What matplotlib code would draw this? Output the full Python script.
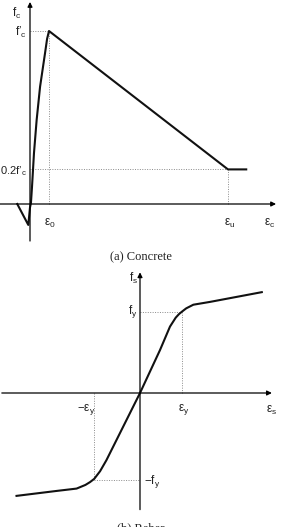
import matplotlib
matplotlib.use('Agg')
import matplotlib.pyplot as plt

plt.rcParams['mathtext.fontset'] = 'custom'
plt.rcParams['mathtext.rm'] = 'Liberation Sans'
plt.rcParams['mathtext.it'] = 'Liberation Sans'
plt.rcParams['font.family'] = 'Liberation Sans'

# (a) concrete: strain in units of eps_0, stress in units of f'c
conc_eps = [-0.67, -0.09, 0.0, 0.05, 0.105, 0.21, 0.35, 0.53, 0.79, 0.9, 1.0, 10.42, 11.38]
conc_sig = [0.0, -0.121, -0.02, 0.006, 0.098, 0.295, 0.486, 0.678, 0.871, 0.955, 1.0, 0.2, 0.2]
eps_0 = 1.0
eps_u = 10.42
fc_peak = 1.0
fc_resid = 0.2

# (b) rebar: strain in units of eps_y, stress in units of f_y
bar_eps = [-2.94, -2.0, -1.51, -1.3, -1.19, -1.09, -0.95, -0.8, 0.0,
           0.476, 0.714, 0.85, 0.93, 1.0, 1.1, 1.27, 1.67, 2.9]
bar_sig = [-1.27, -1.21, -1.18, -1.135, -1.1, -1.06, -0.965, -0.83, 0.0,
           0.53, 0.82, 0.93, 0.975, 1.005, 1.045, 1.09, 1.125, 1.245]
eps_y_pos, eps_y_neg = 1.0, -1.09
fy_pos, fy_neg = 1.0, -1.07

W, H = 282, 527
fig = plt.figure(figsize=(W / 100, H / 100), dpi=100)


def panel(top, bottom, ox, oy, sx, sy):
    # axes covering pixel rows top..bottom, origin at (ox, oy) px
    ax = fig.add_axes([0, (H - bottom) / H, 1, (bottom - top) / H])
    ax.set_xlim((0 - ox) / sx, (W - ox) / sx)
    ax.set_ylim((oy - bottom) / sy, (oy - top) / sy)
    ax.axis('off')
    return ax


def arrow(ax, x0, y0, x1, y1):
    ax.annotate('', xy=(x1, y1), xytext=(x0, y0),
                arrowprops=dict(arrowstyle='-|>', lw=0.9, color='k',
                                mutation_scale=7, shrinkA=0, shrinkB=0))


dot = dict(color='#8a8a8a', lw=0.7, ls=(0, (1, 1.5)))
lab = dict(fontsize=8.5, color='#222222')

# ---- concrete ----
ax1 = panel(0, 250, 30, 204, 19, 173)
arrow(ax1, -1.58, 0, 12.95, 0)
arrow(ax1, 0, -0.214, 0, 1.168)
ax1.plot([0, eps_0], [fc_peak, fc_peak], **dot)
ax1.plot([eps_0, eps_0], [0, fc_peak], **dot)
ax1.plot([0, eps_u], [fc_resid, fc_resid], **dot)
ax1.plot([eps_u, eps_u], [0, fc_resid], **dot)
ax1.plot(conc_eps, conc_sig, color='#111111', lw=1.5, solid_joinstyle='round')

ax1.text(-0.7, 1.1, r'$\mathrm{f}_\mathrm{c}$', ha='center', va='center', **lab)
ax1.text(-0.15, fc_peak - 0.01, '$\\mathrm{f\u2019}_\\mathrm{c}$', ha='right', va='center', **lab)
ax1.text(-0.15, fc_resid - 0.01, '$\\mathrm{0.2f\u2019}_\\mathrm{c}$', ha='right', va='center',
         fontsize=8, color='#222222')
ax1.text(eps_0 + 0.05, -0.11, r'$\mathrm{ε}_\mathrm{0}$', ha='center', va='center', **lab)
ax1.text(eps_u + 0.1, -0.11, r'$\mathrm{ε}_\mathrm{u}$', ha='center', va='center', **lab)
ax1.text(12.6, -0.11, r'$\mathrm{ε}_\mathrm{c}$', ha='center', va='center', **lab)

fig.text(0.5, (H - 257.5) / H, '(a) Concrete', ha='center', va='center',
         fontsize=9, family='Liberation Serif', color='#222222')

# ---- rebar ----
ax2 = panel(270, 527, 140, 393, 42, 81)
arrow(ax2, -3.29, 0, 3.14, 0)
arrow(ax2, 0, -1.44, 0, 1.49)
ax2.plot([0, eps_y_pos], [fy_pos, fy_pos], **dot)
ax2.plot([eps_y_pos, eps_y_pos], [0, fy_pos], **dot)
ax2.plot([eps_y_neg, 0], [fy_neg, fy_neg], **dot)
ax2.plot([eps_y_neg, eps_y_neg], [0, fy_neg], **dot)
ax2.plot(bar_eps, bar_sig, color='#111111', lw=1.5, solid_joinstyle='round')

ax2.text(-0.15, 1.41, r'$\mathrm{f}_\mathrm{s}$', ha='center', va='center', **lab)
ax2.text(-0.07, fy_pos, r'$\mathrm{f}_\mathrm{y}$', ha='right', va='center', **lab)
ax2.text(0.1, fy_neg - 0.02, r'$\mathrm{-f}_\mathrm{y}$', ha='left', va='center', **lab)
ax2.text(-1.28, -0.2, r'$\mathrm{-ε}_\mathrm{y}$', ha='center', va='center', **lab)
ax2.text(eps_y_pos + 0.03, -0.2, r'$\mathrm{ε}_\mathrm{y}$', ha='center', va='center', **lab)
ax2.text(3.14, -0.22, r'$\mathrm{ε}_\mathrm{s}$', ha='center', va='center', **lab)

fig.text(0.5, (H - 522) / H, '(b) Rebar', ha='center', va='top',
         fontsize=9, family='Liberation Serif', color='#222222')

fig.savefig('out.png', dpi=100)
